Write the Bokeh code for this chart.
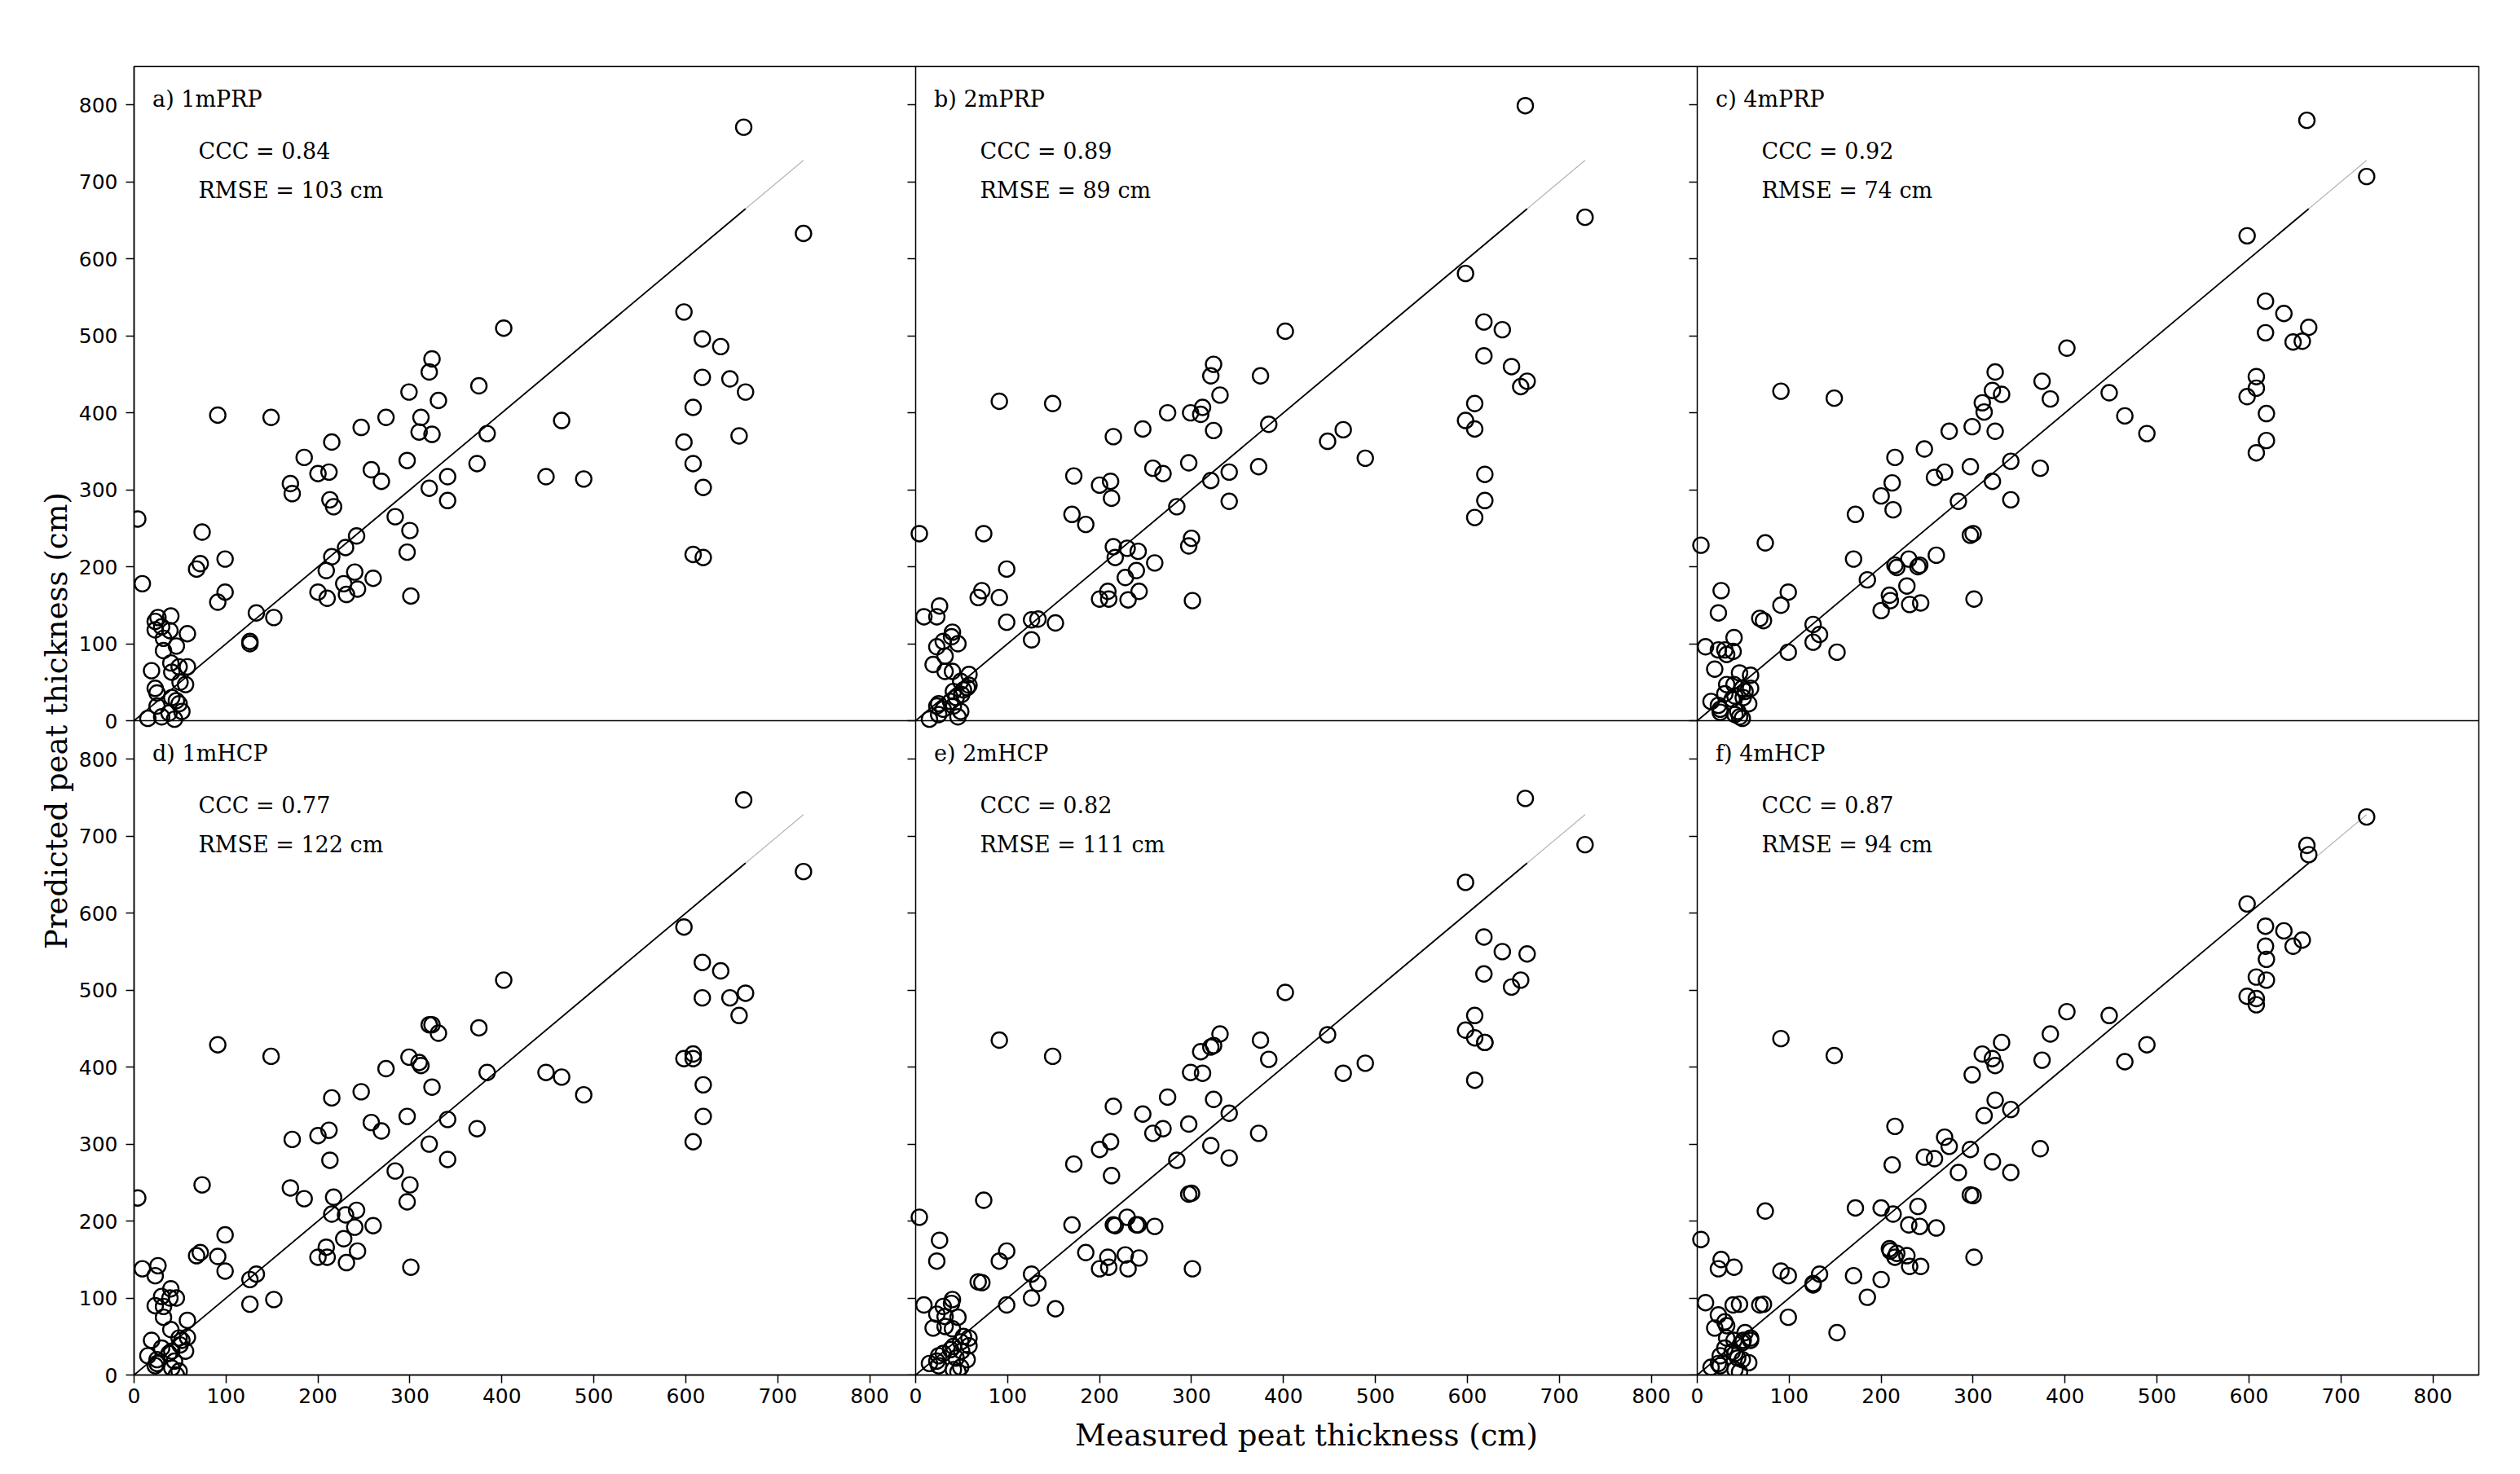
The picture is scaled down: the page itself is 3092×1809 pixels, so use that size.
from bokeh.plotting import figure
from bokeh.models import Range1d, FixedTicker, LinearAxis, Label, Span
from bokeh.embed import file_html
from bokeh.resources import INLINE

# ---------------- data ----------------
tick_values = [0, 100, 200, 300, 400, 500, 600, 700, 800]
axis_max = 850
panel_names = ["a) 1mPRP", "b) 2mPRP", "c) 4mPRP", "d) 1mHCP", "e) 2mHCP", "f) 4mHCP"]
ccc_values = [0.84, 0.89, 0.92, 0.77, 0.82, 0.87]
rmse_values = [103, 89, 74, 122, 111, 94]

# measured peat thickness (cm), shared by all panels
measured = (
    [19, 23, 26, 23, 30, 40, 39, 32, 32, 46, 58, 40, 49, 58, 41, 50, 56, 23, 25, 41, 46, 49, 25, 15, 30, 38, 44, 52]
    + [4, 9, 68, 72, 74, 91, 91, 99, 99, 126, 126, 133, 149, 152, 170, 172, 185, 200, 200, 209, 210, 212, 213,
       215, 215, 217, 228, 230, 231, 240, 242, 243, 247, 258, 260, 269, 274, 284, 297, 297, 299, 300, 301, 310,
       312, 321, 321, 324, 324, 331, 341, 341, 373, 375, 384, 402]
    + [448, 465, 489, 598, 598, 608, 608, 608, 618, 618, 619, 619, 638, 648, 658, 663, 665, 728]
)

pred_1mPRP = (
    [65, 129, 134, 118, 122, 136, 117, 107, 91, 97, 113, 75, 70, 70, 63, 50, 47, 42, 36, 30, 26, 22, 19, 3, 5, 10, 2, 12]
    + [262, 178, 197, 204, 245, 154, 397, 167, 210, 103, 100, 140, 394, 134, 308, 295, 342, 167, 321, 195, 159, 323,
       287, 362, 213, 278, 178, 225, 164, 193, 240, 171, 381, 326, 185, 311, 394, 265, 338, 219, 427, 247, 162, 375,
       394, 453, 302, 372, 470, 416, 317, 286, 334, 435, 373, 510]
    + [317, 390, 314, 531, 362, 407, 334, 216, 496, 446, 303, 212, 486, 444, 370, 771, 427, 633]
)
pred_2mPRP = (
    [73, 135, 149, 96, 103, 115, 109, 84, 64, 100, 60, 64, 51, 46, 38, 34, 43, 19, 22, 19, 5, 12, 8, 2, 15, 25, 30, 40]
    + [243, 135, 160, 169, 243, 160, 415, 128, 197, 131, 105, 132, 412, 127, 268, 318, 255, 158, 306, 168, 158, 311,
       289, 369, 226, 212, 186, 224, 157, 195, 220, 168, 379, 328, 205, 321, 400, 278, 335, 227, 400, 237, 156, 398,
       407, 448, 312, 377, 463, 423, 323, 285, 330, 448, 385, 506]
    + [363, 378, 341, 581, 390, 412, 379, 264, 518, 474, 320, 286, 508, 460, 434, 799, 441, 654]
)
pred_4mPRP = (
    [67, 140, 169, 92, 92, 108, 90, 86, 47, 62, 59, 47, 42, 42, 32, 30, 22, 20, 11, 8, 5, 3, 15, 25, 35, 28, 12, 38]
    + [228, 96, 133, 130, 231, 150, 428, 89, 167, 125, 102, 112, 419, 89, 210, 268, 183, 143, 292, 163, 156, 309,
       274, 342, 202, 199, 175, 210, 151, 200, 202, 153, 353, 316, 215, 323, 376, 285, 330, 241, 382, 243, 158, 413,
       401, 429, 311, 376, 453, 424, 337, 287, 328, 441, 418, 484]
    + [426, 396, 373, 630, 421, 447, 432, 348, 545, 504, 399, 364, 529, 492, 493, 780, 511, 707]
)
pred_1mHCP = (
    [45, 129, 142, 90, 102, 112, 100, 89, 75, 100, 71, 59, 48, 49, 31, 39, 31, 12, 15, 9, 0, 5, 20, 25, 35, 28, 18, 45]
    + [230, 138, 155, 159, 247, 154, 429, 135, 182, 124, 92, 131, 414, 98, 243, 306, 229, 153, 311, 166, 153, 318,
       279, 360, 209, 231, 177, 208, 146, 192, 214, 161, 368, 328, 194, 317, 398, 265, 336, 225, 413, 247, 140, 406,
       402, 455, 300, 374, 455, 444, 332, 280, 320, 451, 393, 513]
    + [393, 387, 364, 582, 411, 417, 411, 303, 536, 490, 377, 336, 525, 490, 467, 747, 496, 654]
)
pred_2mHCP = (
    [61, 148, 175, 79, 89, 98, 93, 76, 63, 75, 48, 60, 43, 38, 37, 31, 20, 18, 12, 7, 4, 10, 25, 15, 28, 33, 22, 50]
    + [205, 91, 121, 120, 227, 148, 435, 91, 161, 131, 100, 119, 414, 86, 195, 274, 159, 138, 293, 153, 140, 303,
       259, 349, 195, 194, 156, 205, 138, 195, 195, 152, 339, 314, 193, 320, 361, 279, 326, 235, 393, 236, 138, 420,
       392, 426, 298, 358, 428, 443, 340, 282, 314, 435, 410, 497]
    + [442, 392, 405, 640, 448, 467, 438, 383, 569, 521, 432, 432, 550, 504, 513, 749, 547, 689]
)
pred_4mHCP = (
    [61, 138, 150, 78, 69, 140, 91, 64, 48, 92, 48, 45, 42, 45, 28, 45, 16, 15, 12, 7, 4, 20, 25, 10, 35, 30, 22, 55]
    + [176, 94, 91, 92, 213, 135, 437, 75, 129, 117, 119, 131, 415, 55, 129, 217, 101, 124, 217, 164, 161, 273,
       209, 323, 153, 158, 155, 195, 141, 219, 193, 141, 283, 281, 191, 309, 297, 263, 293, 234, 390, 233, 153, 417,
       337, 411, 277, 357, 402, 432, 345, 263, 294, 409, 443, 472]
    + [467, 407, 429, 612, 492, 517, 489, 481, 583, 557, 540, 513, 577, 557, 565, 688, 676, 725]
)
predicted = [pred_1mPRP, pred_2mPRP, pred_4mPRP, pred_1mHCP, pred_2mHCP, pred_4mHCP]

n_cols, n_rows = 3, 2
panel_col = [0, 1, 2, 0, 1, 2]
panel_row = [1, 1, 1, 0, 0, 0]   # counted from the bottom

# ---------------- figure ----------------
FW, FH = 959, 803
ML, MR, MT, MB = 164, 40, 81, 118
p = figure(width=ML + n_cols * FW + MR, height=MT + n_rows * FH + MB,
           x_range=Range1d(0, n_cols * axis_max), y_range=Range1d(0, n_rows * axis_max),
           output_backend="svg", toolbar_location=None,
           min_border_left=ML, min_border_right=MR, min_border_top=MT, min_border_bottom=MB)
p.background_fill_color = "white"
p.border_fill_color = "white"
p.outline_line_color = "black"
p.outline_line_width = 1.5
p.xgrid.visible = False
p.ygrid.visible = False

for c in range(n_cols):
    p.extra_x_ranges[f"c{c}"] = Range1d(-c * axis_max, (n_cols - c) * axis_max)
for r in range(n_rows):
    p.extra_y_ranges[f"r{r}"] = Range1d(-r * axis_max, (n_rows - r) * axis_max)

x_ticks = [t + c * axis_max for c in range(n_cols) for t in tick_values]
y_ticks = [t + r * axis_max for r in range(n_rows) for t in tick_values]

main_x = p.below[0]
main_y = p.left[0]
for ax, ticks in ((main_x, x_ticks), (main_y, y_ticks)):
    ax.ticker = FixedTicker(ticks=ticks)
    ax.major_label_overrides = {t: str(int(t % axis_max)) for t in ticks}
    ax.minor_tick_line_color = None
    ax.major_tick_out = 10
    ax.major_tick_in = 0
    ax.major_tick_line_width = 1.5
    ax.axis_line_width = 1.5
    ax.axis_line_color = "black"
    ax.major_label_text_font = "DejaVu Sans"
    ax.major_label_text_font_size = "25px"
    ax.major_label_text_color = "black"
    ax.axis_label_text_font = "DejaVu Serif"
    ax.axis_label_text_font_size = "37px"
    ax.axis_label_text_font_style = "normal"
    ax.axis_label_text_color = "black"
main_x.major_label_standoff = 6
main_y.major_label_standoff = 10
main_x.axis_label = "Measured peat thickness (cm)"
main_y.axis_label = "Predicted peat thickness (cm)"
main_x.axis_label_standoff = 15
main_y.axis_label_standoff = 3

# inner panel boundaries with tick marks pointing into the left-hand panel
for c in range(1, n_cols):
    inner = LinearAxis(fixed_location=c * axis_max, ticker=FixedTicker(ticks=y_ticks),
                       major_label_overrides={t: "" for t in y_ticks},
                       major_label_standoff=0, major_tick_out=10, major_tick_in=0,
                       major_tick_line_width=1.5, minor_tick_line_color=None,
                       axis_line_width=1.5, axis_line_color="black")
    p.add_layout(inner, "left")
for r in range(1, n_rows):
    p.add_layout(Span(location=r * axis_max, dimension="width", line_color="black", line_width=1.5))

# ---------------- panels ----------------
sorted_meas = sorted(measured)
for i, name in enumerate(panel_names):
    xr, yr = f"c{panel_col[i]}", f"r{panel_row[i]}"
    p.line([0, sorted_meas[-1]], [0, sorted_meas[-1]], line_color="#b4b4b4", line_width=1.2,
           x_range_name=xr, y_range_name=yr)
    p.line([0, sorted_meas[-2]], [0, sorted_meas[-2]], line_color="black", line_width=1.8,
           x_range_name=xr, y_range_name=yr)
    p.scatter(measured, predicted[i], marker="circle", size=19, fill_color=None,
              line_color="black", line_width=2.4, x_range_name=xr, y_range_name=yr)
    for tx, ty, txt in ((20, 808, name),
                        (70, 740, f"CCC = {ccc_values[i]:.2f}"),
                        (70, 689, f"RMSE = {rmse_values[i]} cm")):
        p.add_layout(Label(x=tx, y=ty, text=txt, x_range_name=xr, y_range_name=yr,
                           text_font="DejaVu Serif", text_font_size="27px",
                           text_color="black", text_baseline="middle", text_align="left"))

open("out.html", "w").write(file_html(p, INLINE))
